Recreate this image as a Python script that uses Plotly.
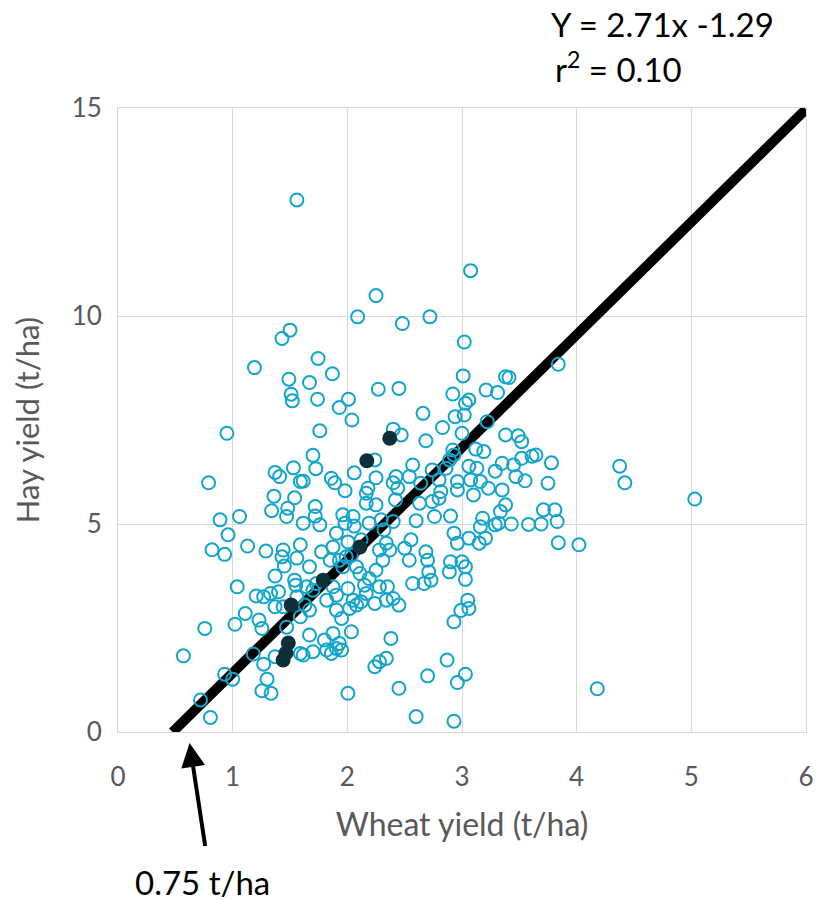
import plotly.graph_objects as go

# Open-circle observations (wheat yield t/ha, hay yield t/ha)
wheat = [1.50, 1.43, 1.19, 1.49, 1.51, 1.52, 0.95, 0.79, 1.37, 1.41, 1.53, 1.59, 1.36, 1.34, 1.48, 1.54, 1.06, 0.89,
         1.47, 0.96, 0.82, 0.93, 1.13, 1.29, 1.44, 1.43, 1.45, 1.56, 1.37, 1.04, 1.55, 1.205, 1.27, 1.33, 1.40, 1.37,
         1.44, 1.11, 1.02, 1.23, 1.255, 1.47, 0.757, 1.18, 1.37, 1.27, 0.57, 0.93, 1.00, 1.30, 1.255, 1.335, 0.72, 0.806,
         1.56, 2.25, 2.09, 2.48, 1.745, 1.87, 1.67, 1.74, 1.93, 2.01, 2.04, 2.27, 2.45, 1.76, 2.40, 2.24, 1.70, 1.725,
         1.615, 1.86, 1.89, 1.98, 2.06, 2.25, 2.18, 2.165, 2.40, 2.44,
         1.72, 2.165, 2.25, 2.42, 1.72, 1.615, 1.76, 1.96, 2.05, 1.98, 2.06, 2.19, 2.295, 2.32, 2.40, 1.905, 1.59, 2.005,
         2.12, 2.34, 2.28, 2.37, 2.31, 1.875, 1.775, 1.67, 1.85, 1.93, 1.99, 2.035, 1.96, 2.08, 2.11, 2.19, 2.25, 1.54,
         1.645, 1.73, 1.875, 2.005, 2.15, 2.28, 2.35, 2.165, 1.56, 1.70, 1.82, 1.905, 2.05, 2.12, 2.24, 2.34, 2.40, 2.45,
         1.63, 1.67, 1.905, 2.02, 2.08, 1.59, 1.95, 2.035, 1.875, 1.67, 1.80, 1.93, 2.38, 1.59, 1.70, 1.82, 1.905, 1.86,
         1.95, 1.615, 2.24, 2.28, 2.34, 2.005, 2.45,
         3.075, 2.72, 3.02, 3.01, 3.38, 2.92, 3.06, 3.03, 3.21, 3.31, 2.66, 2.94, 3.02, 2.83, 3.22, 3.00, 3.38, 2.47,
         2.685, 2.92, 2.93, 3.12, 3.19, 2.89, 2.57, 2.74, 2.86, 3.06, 3.13, 3.35, 3.29, 2.425, 2.54, 2.64, 2.80, 2.96,
         3.075, 3.16, 3.23, 2.815, 2.96, 3.35, 3.10,
         2.63, 2.74, 2.80, 3.335, 3.38, 2.60, 2.76, 2.90, 3.18, 3.16, 3.29, 2.93, 3.06, 3.15, 3.205, 2.555, 2.50, 2.96,
         2.685, 2.54, 2.70, 2.90, 3.00, 3.03, 2.89, 2.71, 3.03, 2.57, 2.67, 2.73, 3.05, 3.06, 2.99, 2.93, 2.87, 2.70,
         3.03, 2.96, 2.60, 2.93,
         3.84, 3.41, 3.49, 3.52, 3.45, 3.52, 3.61, 3.645, 3.78, 3.47, 3.55, 3.75, 3.71, 3.81, 3.83, 3.32, 3.43, 3.58,
         3.69, 3.84, 4.02, 4.375, 4.42, 5.03, 4.18]
hay = [9.66, 9.46, 8.76, 8.48, 8.12, 7.96, 7.18, 5.99, 6.24, 6.14, 6.35, 6.02, 5.67, 5.32, 5.38, 5.63, 5.18, 5.10,
       5.18, 4.74, 4.38, 4.27, 4.47, 4.35, 4.375, 4.21, 3.99, 4.18, 3.75, 3.49, 3.53, 3.27, 3.25, 3.33, 3.37, 3.01,
       3.01, 2.85, 2.59, 2.69, 2.49, 2.52, 2.49, 1.875, 1.81, 1.63, 1.83, 1.39, 1.27, 1.27, 0.99, 0.93, 0.77, 0.35,
       12.79, 10.49, 9.98, 9.82, 8.98, 8.61, 8.40, 8.00, 7.80, 8.00, 7.50, 8.24, 8.26, 7.24, 7.28, 6.54, 6.65, 6.33,
       6.03, 6.10, 5.99, 5.80, 6.23, 6.11, 5.86, 5.74, 5.99, 5.86,
       5.42, 5.50, 5.46, 5.58, 5.19, 5.02, 4.98, 5.22, 5.18, 5.02, 4.95, 5.02, 5.10, 4.86, 5.06, 4.78, 4.50, 4.57,
       4.62, 4.54, 4.375, 4.375, 4.13, 4.45, 4.33, 3.97, 4.13, 4.13, 4.21, 4.25, 3.97, 3.97, 3.81, 3.69, 3.89, 3.65,
       3.49, 3.57, 3.49, 3.45, 3.53, 3.49, 3.49, 3.33, 3.25, 3.41, 3.17, 3.29, 3.17, 3.13, 3.09, 3.17, 3.21, 3.05,
       3.05, 2.93, 2.93, 2.97, 3.05, 2.77, 2.73, 2.41, 2.37, 2.33, 2.21, 2.13, 2.25, 1.89, 1.93, 1.97, 2.01, 1.89,
       1.97, 1.85, 1.57, 1.69, 1.77, 0.93, 1.05,
       11.09, 9.98, 9.375, 8.56, 8.54, 8.125, 7.98, 7.90, 8.22, 8.16, 7.66, 7.58, 7.62, 7.32, 7.46, 7.18, 7.14, 7.14,
       7.00, 6.78, 6.66, 6.80, 6.74, 6.54, 6.42, 6.30, 6.34, 6.39, 6.34, 6.46, 6.27, 6.14, 6.14, 5.98, 6.06, 6.02,
       6.06, 6.02, 5.86, 5.78, 5.82, 5.82, 5.70,
       5.50, 5.54, 5.62, 5.30, 5.46, 5.08, 5.18, 5.19, 5.14, 4.935, 4.98, 4.78, 4.66, 4.54, 4.66, 4.62, 4.42, 4.54,
       4.33, 4.13, 4.13, 4.09, 4.09, 3.97, 3.85, 3.85, 3.67, 3.57, 3.57, 3.65, 3.17, 2.97, 2.92, 2.65, 1.73, 1.35,
       1.39, 1.19, 0.37, 0.26,
       8.84, 8.52, 7.12, 6.98, 6.42, 6.58, 6.63, 6.66, 6.47, 6.14, 6.04, 5.98, 5.34, 5.34, 5.06, 5.02, 5.00, 4.99,
       5.00, 4.55, 4.50, 6.39, 5.99, 5.60, 1.04]

# Highlighted (filled) observations
wheat_hl = [1.51, 1.485, 1.465, 1.44, 1.79, 2.11, 2.17, 2.37]
hay_hl = [3.05, 2.14, 1.90, 1.73, 3.65, 4.45, 6.52, 7.06]

# Regression: Y = 2.71x - 1.29
SLOPE = 2.71
INTERCEPT = -1.29
X_MAX = 6.0
x0 = -INTERCEPT / SLOPE
fit_x = [x0, X_MAX]
fit_y = [SLOPE * v + INTERCEPT for v in fit_x]

x_ticks = [0, 1, 2, 3, 4, 5, 6]
y_ticks = [0, 5, 10, 15]

FONT = "Lato"
GREY = "#595959"

fig = go.Figure()
fig.add_trace(go.Scatter(x=fit_x, y=fit_y, mode="lines",
                         line=dict(color="black", width=10), hoverinfo="skip", showlegend=False))
fig.add_trace(go.Scatter(x=wheat, y=hay, mode="markers",
                         marker=dict(symbol="circle-open", size=13, color="#12A5CC", line=dict(width=2)),
                         showlegend=False))
fig.add_trace(go.Scatter(x=wheat_hl, y=hay_hl, mode="markers",
                         marker=dict(symbol="circle", size=15, color="#0D2F3A"),
                         showlegend=False))

fig.update_layout(
    width=815, height=893,
    margin=dict(l=110, r=9, t=100, b=169),
    plot_bgcolor="white", paper_bgcolor="white",
    font=dict(family=FONT, color=GREY),
    showlegend=False,
    xaxis=dict(range=[0, 6], tickvals=x_ticks, showgrid=True, gridcolor="#D9D9D9", gridwidth=1,
               zeroline=False, showline=True, linecolor="#D9D9D9", mirror=True,
               ticks="outside", ticklen=22, tickcolor="rgba(0,0,0,0)",
               tickfont=dict(size=26, color=GREY, family=FONT),
               title=dict(text="Wheat yield (t/ha)", font=dict(size=32, color=GREY, family=FONT), standoff=22)),
    yaxis=dict(range=[0, 15], tickvals=y_ticks, showgrid=True, gridcolor="#D9D9D9", gridwidth=1,
               zeroline=False, showline=True, linecolor="#D9D9D9", mirror=True,
               ticks="outside", ticklen=10, tickcolor="rgba(0,0,0,0)",
               tickfont=dict(size=26, color=GREY, family=FONT),
               title=dict(text="Hay yield (t/ha)", font=dict(size=31, color=GREY, family=FONT), standoff=22)),
)

fig.add_annotation(xref="paper", yref="paper", x=0.627, y=1.135, xanchor="left", yanchor="middle",
                   text="Y = 2.71x -1.29", showarrow=False, font=dict(size=33, color="black", family=FONT))
fig.add_annotation(xref="paper", yref="paper", x=0.632, y=1.066, xanchor="left", yanchor="middle",
                   text="r<sup>2</sup> = 0.10", showarrow=False, font=dict(size=33, color="black", family=FONT))
# Arrow pointing to the x-intercept (paper coordinates so it may sit below the axis)
fig.add_annotation(xref="paper", yref="paper", x=0.104, y=-0.0176, text=" ", showarrow=True,
                   axref="pixel", ayref="pixel", ax=17, ay=112,
                   arrowhead=2, arrowsize=1.2, arrowwidth=4, arrowcolor="black")
fig.add_annotation(xref="paper", yref="paper", x=0.123, y=-0.2404, xanchor="center", yanchor="middle",
                   text="0.75 t/ha", showarrow=False, font=dict(size=33, color="black", family=FONT))

fig.write_html("out.html")
